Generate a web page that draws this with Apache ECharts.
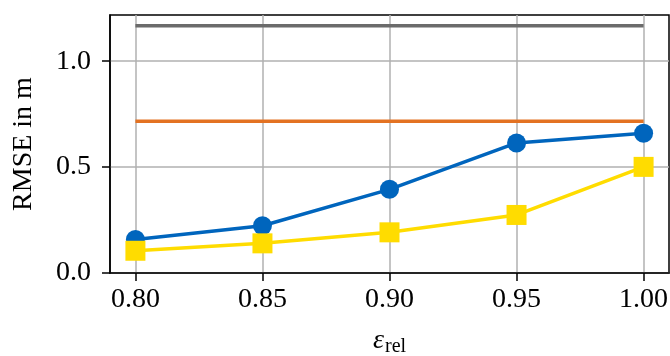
<!DOCTYPE html>
<html>
<head>
<meta charset="utf-8">
<script src="https://cdn.jsdelivr.net/npm/echarts@6/dist/echarts.min.js"></script>
<style>html,body{margin:0;padding:0;background:#fff;}#c{width:670px;height:356px;}</style>
</head>
<body>
<div id="c"></div>
<script>
const xValues = [0.80, 0.85, 0.90, 0.95, 1.00];
const blueSeries = [0.158, 0.223, 0.395, 0.614, 0.660];
const yellowSeries = [0.105, 0.140, 0.192, 0.274, 0.501];
const grayLevel = 1.167;
const orangeLevel = 0.716;
const xTicks = [0.80, 0.85, 0.90, 0.95, 1.00];
const yTicks = [0.0, 0.5, 1.0];

const font = 'Liberation Serif';
const chart = echarts.init(document.getElementById('c'), null, {renderer: 'canvas'});
const pair = (xs, ys) => xs.map((x, i) => [x, ys[i]]);
chart.setOption({
  animation: false,
  grid: {left: 110, right: 1, top: 15, bottom: 83, outerBoundsMode: 'none', containLabel: false,
         show: true, borderColor: '#000', borderWidth: 1.5, backgroundColor: 'transparent'},
  xAxis: {
    type: 'value', min: 0.79, max: 1.01,
    axisLine: {show: true, lineStyle: {color: '#000', width: 1.5}},
    axisTick: {show: true, inside: false, length: 8, lineStyle: {color: '#000', width: 1.5}, customValues: xTicks},
    axisLabel: {customValues: xTicks, formatter: v => v.toFixed(2), color: '#000', fontFamily: font, fontSize: 28, margin: 13},
    splitLine: {show: true, lineStyle: {color: '#b0b0b0', width: 1.5}},
    name: '{e|ε}{s|rel}', nameLocation: 'middle', nameGap: 52,
    nameTextStyle: {rich: {
      e: {fontFamily: font, fontStyle: 'italic', fontSize: 28, color: '#000'},
      s: {fontFamily: font, fontSize: 20, color: '#000', padding: [12, 0, 0, 1]}
    }}
  },
  yAxis: {
    type: 'value', min: 0, max: 1.218,
    axisLine: {show: true, lineStyle: {color: '#000', width: 1.5}},
    axisTick: {show: true, inside: false, length: 8, lineStyle: {color: '#000', width: 1.5}, customValues: yTicks},
    axisLabel: {customValues: yTicks, formatter: v => v.toFixed(1), color: '#000', fontFamily: font, fontSize: 28, margin: 19},
    splitLine: {show: true, lineStyle: {color: '#b0b0b0', width: 1.5}},
    name: 'RMSE in m', nameLocation: 'middle', nameGap: 72, nameRotate: 90,
    nameTextStyle: {fontFamily: font, fontSize: 28, color: '#000'}
  },
  series: [
    {type: 'line', data: [[xValues[0], grayLevel], [xValues[4], grayLevel]], showSymbol: false, symbol: 'none',
     lineStyle: {color: '#6b6b6b', width: 3.5, cap: 'butt'}, z: 2},
    {type: 'line', data: [[xValues[0], orangeLevel], [xValues[4], orangeLevel]], showSymbol: false, symbol: 'none',
     lineStyle: {color: '#e37222', width: 3.5, cap: 'butt'}, z: 2},
    {type: 'line', data: pair(xValues, blueSeries), symbol: 'circle', symbolSize: 19,
     itemStyle: {color: '#0065bd'}, lineStyle: {color: '#0065bd', width: 3.5}, z: 3},
    {type: 'line', data: pair(xValues, yellowSeries), symbol: 'rect', symbolSize: 20,
     itemStyle: {color: '#ffdc00'}, lineStyle: {color: '#ffdc00', width: 3.5}, z: 4}
  ]
});
</script>
</body>
</html>
